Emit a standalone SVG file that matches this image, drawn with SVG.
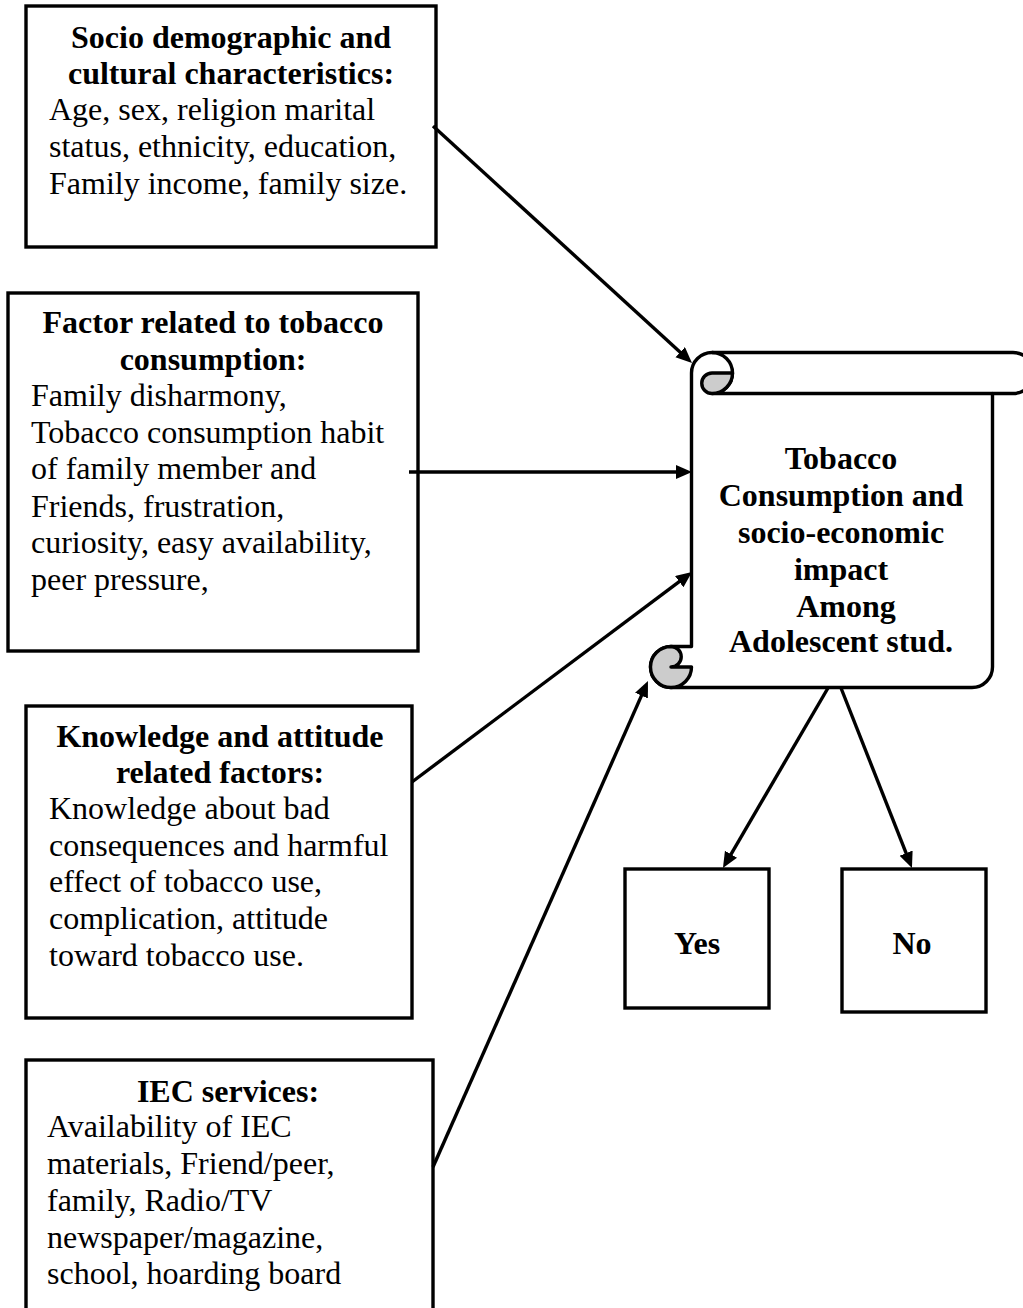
<svg xmlns="http://www.w3.org/2000/svg" width="1023" height="1308" viewBox="0 0 1023 1308">
<style>
.box{fill:#fff;stroke:#000;stroke-width:3.4}
.t{font-family:"Liberation Serif","Times New Roman",serif;font-size:32px;fill:#000}
.b{font-weight:bold}
.c{text-anchor:middle}
.con{stroke:#000;stroke-width:3.4;fill:none}
.sc{stroke:#000;stroke-width:3.4;stroke-linejoin:round}
</style>
<defs>
<marker id="ah" markerUnits="userSpaceOnUse" markerWidth="18" markerHeight="16" refX="3" refY="7" orient="auto">
<path d="M0,0 L16,7 L0,14 z" fill="#000"/>
</marker>
</defs>
<rect width="1023" height="1308" fill="#fff"/>

<g id="node-socio">
<rect class="box" x="26" y="6" width="410" height="241"/>
<text class="t b c" x="231" y="48">Socio demographic and</text>
<text class="t b c" x="231" y="84">cultural characteristics:</text>
<text class="t" x="49" y="120">Age, sex, religion marital</text>
<text class="t" x="49" y="157">status, ethnicity, education,</text>
<text class="t" x="49" y="194">Family income, family size.</text>
</g>

<g id="node-factor">
<rect class="box" x="8" y="293" width="410" height="358"/>
<text class="t b c" x="213" y="333">Factor related to tobacco</text>
<text class="t b c" x="213" y="370">consumption:</text>
<text class="t" x="31" y="406">Family disharmony,</text>
<text class="t" x="31" y="443">Tobacco consumption habit</text>
<text class="t" x="31" y="479">of family member and</text>
<text class="t" x="31" y="517">Friends, frustration,</text>
<text class="t" x="31" y="553">curiosity, easy availability,</text>
<text class="t" x="31" y="590">peer pressure,</text>
</g>

<g id="node-knowledge">
<rect class="box" x="26" y="706" width="386" height="312"/>
<text class="t b c" x="220" y="747">Knowledge and attitude</text>
<text class="t b c" x="220" y="783">related factors:</text>
<text class="t" x="49" y="819">Knowledge about bad</text>
<text class="t" x="49" y="856">consequences and harmful</text>
<text class="t" x="49" y="892">effect of tobacco use,</text>
<text class="t" x="49" y="929">complication, attitude</text>
<text class="t" x="49" y="966">toward tobacco use.</text>
</g>

<g id="node-iec">
<rect class="box" x="26" y="1060" width="407" height="270"/>
<text class="t b c" x="228" y="1102">IEC services:</text>
<text class="t" x="47" y="1137">Availability of IEC</text>
<text class="t" x="47" y="1174">materials, Friend/peer,</text>
<text class="t" x="47" y="1211">family, Radio/TV</text>
<text class="t" x="47" y="1248">newspaper/magazine,</text>
<text class="t" x="47" y="1284">school, hoarding board</text>
</g>

<g id="node-tobacco">
<path class="sc" fill="#fff" d="M691.5,373 A20.5,20.5 0 0 1 712,352.5 L1013,352.5 A20.5,20.5 0 0 1 1013,393.5 L992.5,393.5 L992.5,667 A20.5,20.5 0 0 1 972,687.5 L671,687.5 A20.5,20.5 0 0 1 650.5,667 A20.5,20.5 0 0 1 671,646.5 L691.5,646.5 L691.5,373 Z"/>
<path class="sc" fill="none" d="M712,352.5 A20.5,20.5 0 0 1 732.5,373 A20.5,20.5 0 0 1 712,393.5 L992.5,393.5"/>
<path class="sc" fill="#cccccc" d="M712,373 L732.5,373 A20.5,20.5 0 0 1 712,393.5 A10.25,10.25 0 0 1 712,373 Z"/>
<path class="sc" fill="#cccccc" d="M671,646.5 A10.25,10.25 0 0 1 671,667 L691.5,667 A20.5,20.5 0 1 1 671,646.5 Z"/>
<text class="t b c" x="841" y="469">Tobacco</text>
<text class="t b c" x="841" y="506">Consumption and</text>
<text class="t b c" x="841" y="543">socio-economic</text>
<text class="t b c" x="841" y="580">impact</text>
<text class="t b c" x="846" y="617">Among</text>
<text class="t b c" x="841" y="652">Adolescent stud.</text>
</g>

<g id="node-yes">
<rect class="box" x="625" y="869" width="144" height="139"/>
<text class="t b c" x="697" y="954">Yes</text>
</g>

<g id="node-no">
<rect class="box" x="842" y="869" width="144" height="143"/>
<text class="t b c" x="912" y="954">No</text>
</g>

<g id="connectors">
<line class="con" x1="433" y1="126" x2="682.4" y2="354.2" marker-end="url(#ah)"/>
<line class="con" x1="409" y1="472" x2="679" y2="472" marker-end="url(#ah)"/>
<line class="con" x1="412" y1="782" x2="681.6" y2="579.8" marker-end="url(#ah)"/>
<line class="con" x1="433" y1="1167" x2="642.7" y2="692.9" marker-end="url(#ah)"/>
<line class="con" x1="828" y1="688" x2="729.5" y2="856.8" marker-end="url(#ah)"/>
<line class="con" x1="841" y1="688" x2="907.2" y2="855.9" marker-end="url(#ah)"/>
</g>
</svg>
